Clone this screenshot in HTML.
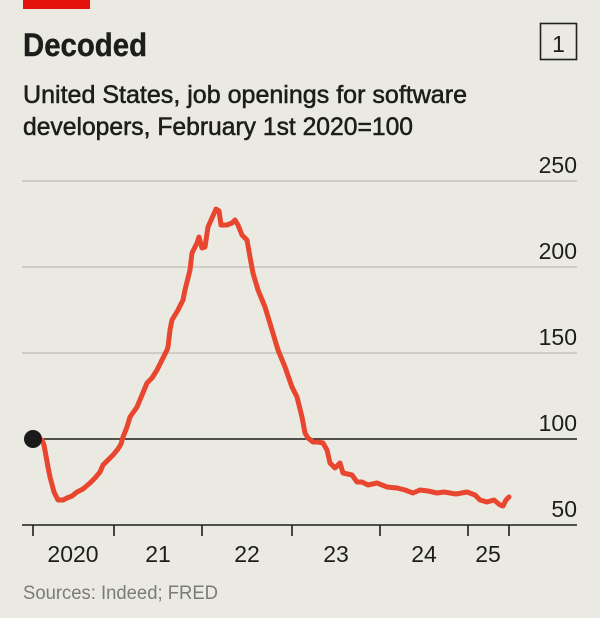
<!DOCTYPE html>
<html>
<head>
<meta charset="utf-8">
<style>
  html, body { margin: 0; padding: 0; background: #ebeae2; }
  svg { display: block; }
  text { font-family: "Liberation Sans", Arial, sans-serif; fill: #1d1d1b; }
</style>
</head>
<body>
<svg width="600" height="618" viewBox="0 0 600 618" xmlns="http://www.w3.org/2000/svg">
  <rect x="0" y="0" width="600" height="618" fill="#ebeae2"/>
  <rect x="23" y="0" width="67" height="9" fill="#e3120b"/>

  <text x="23" y="56" font-size="32" font-weight="bold" textLength="124" lengthAdjust="spacingAndGlyphs" style="stroke:#1d1d1b;stroke-width:0.4">Decoded</text>

  <rect x="540.5" y="23.5" width="36" height="36" fill="none" stroke="#222" stroke-width="1.6"/>
  <text x="558.5" y="52" font-size="23" text-anchor="middle">1</text>

  <text x="23" y="103" font-size="25" textLength="444" lengthAdjust="spacingAndGlyphs" style="stroke:#1d1d1b;stroke-width:0.55">United States, job openings for software</text>
  <text x="23" y="135" font-size="25" textLength="390" lengthAdjust="spacingAndGlyphs" style="stroke:#1d1d1b;stroke-width:0.55">developers, February 1st 2020=100</text>

  <!-- gridlines -->
  <g stroke="#c6c5bd" stroke-width="1.6">
    <line x1="22" y1="181" x2="577" y2="181"/>
    <line x1="22" y1="267" x2="577" y2="267"/>
    <line x1="22" y1="353" x2="577" y2="353"/>
  </g>
  <line x1="33" y1="439" x2="577" y2="439" stroke="#1d1d1b" stroke-width="1.6"/>
  <line x1="22" y1="525" x2="577" y2="525" stroke="#1d1d1b" stroke-width="1.6"/>

  <!-- ticks -->
  <g stroke="#1d1d1b" stroke-width="1.6">
    <line x1="33" y1="525" x2="33" y2="536"/>
    <line x1="114" y1="525" x2="114" y2="536"/>
    <line x1="202" y1="525" x2="202" y2="536"/>
    <line x1="292" y1="525" x2="292" y2="536"/>
    <line x1="380" y1="525" x2="380" y2="536"/>
    <line x1="468" y1="525" x2="468" y2="536"/>
    <line x1="509" y1="525" x2="509" y2="536"/>
  </g>

  <!-- y labels -->
  <g font-size="23" text-anchor="end">
    <text x="577" y="173">250</text>
    <text x="577" y="259">200</text>
    <text x="577" y="345">150</text>
    <text x="577" y="431">100</text>
    <text x="577" y="517">50</text>
  </g>

  <!-- x labels -->
  <g font-size="23" text-anchor="middle">
    <text x="73" y="562">2020</text>
    <text x="158" y="562">21</text>
    <text x="247" y="562">22</text>
    <text x="336" y="562">23</text>
    <text x="424" y="562">24</text>
    <text x="488" y="562">25</text>
  </g>

  <!-- series -->
  <polyline fill="none" stroke="#e9462f" stroke-width="5" stroke-linejoin="round" stroke-linecap="round"
    points="33,439 42,440 44,445 46,456 48,467 50,477 54,492 58,500 63,500 67,498 72,496 77,492 83,489 90,483 95,478 100,472 103,465 108,460 113,455 118,449 121,444 123,437 127,427 130,417 137,407 142,395 147,383 152,378 157,370 162,360 167,350 168,347 170,330 172,320 178,310 183,300 185,290 190,270 192,253 197,243 199,237 202,248 205,247 208,227 212,218 216,209 219,211 221,225 227,225 232,223 235,220 238,225 242,235 247,240 250,257 253,273 258,290 265,307 272,330 278,350 285,367 292,387 297,397 302,417 305,433 308,438 313,442 318,442 323,443 327,450 330,463 335,468 340,463 343,473 352,475 357,482 362,482 368,485 377,483 387,487 397,488 405,490 413,493 420,490 428,491 437,493 444,492 456,494 467,492 475,495 480,500 487,502 494,500 500,505 503,506 506,500 509,497"/>

  <circle cx="33" cy="439" r="9" fill="#1a1a1a"/>

  <text x="23" y="599" font-size="19.5" style="fill:#7b7b77" textLength="195" lengthAdjust="spacingAndGlyphs">Sources: Indeed; FRED</text>
</svg>
</body>
</html>
